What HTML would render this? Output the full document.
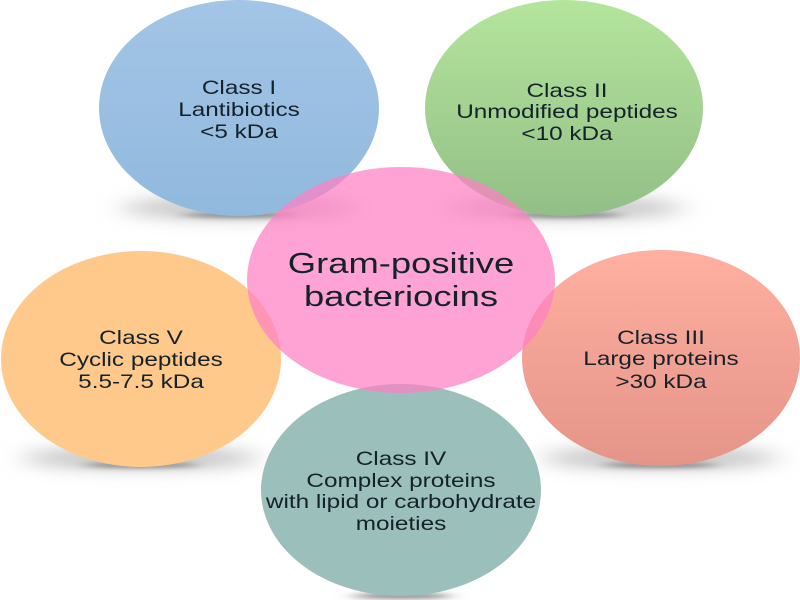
<!DOCTYPE html>
<html><head><meta charset="utf-8"><style>
html,body{margin:0;padding:0;background:#fff}
svg{display:block}
text{font-family:"Liberation Sans",sans-serif;fill:#14202a;text-anchor:middle}
.s{font-size:19px}
.b{font-size:29px}
</style></head><body>
<svg width="800" height="600" viewBox="0 0 800 600" xmlns="http://www.w3.org/2000/svg">
<defs>
<filter id="wide" x="-30%" y="-300%" width="160%" height="700%"><feGaussianBlur stdDeviation="14 8"/></filter>
<filter id="near" x="-30%" y="-300%" width="160%" height="700%"><feGaussianBlur stdDeviation="9 2.5"/></filter>
<filter id="soft" x="-5%" y="-5%" width="110%" height="110%"><feGaussianBlur stdDeviation=".35"/></filter>
<linearGradient id="blue" x1="0" y1="0" x2="0" y2="1"><stop offset="0" stop-color="#a3c5e6"/><stop offset="1" stop-color="#91b9de"/></linearGradient>
<linearGradient id="green" x1="0" y1="0" x2="0" y2="1"><stop offset="0" stop-color="#b4e59c"/><stop offset="1" stop-color="#92bf87"/></linearGradient>
<linearGradient id="red" x1="0" y1="0" x2="0" y2="1"><stop offset="0" stop-color="#ffb0a0"/><stop offset="1" stop-color="#e59488"/></linearGradient>
</defs>
<g filter="url(#wide)" fill="#c4c4c4">
<ellipse cx="240" cy="208" rx="118" ry="11"/>
<ellipse cx="565" cy="208" rx="118" ry="11"/>
<ellipse cx="141" cy="458" rx="118" ry="11"/>
<ellipse cx="660" cy="458" rx="118" ry="11"/>
</g>
<g filter="url(#near)" fill="#8c8c8c">
<ellipse cx="240" cy="215" rx="58" ry="3"/>
<ellipse cx="565" cy="215" rx="58" ry="3"/>
<ellipse cx="141" cy="465" rx="58" ry="3"/>
<ellipse cx="660" cy="465" rx="58" ry="3"/>
<ellipse cx="402" cy="596" rx="50" ry="3"/>
</g>
<ellipse cx="239" cy="108" rx="140" ry="108" fill="url(#blue)"/>
<ellipse cx="564" cy="108" rx="139" ry="108" fill="url(#green)"/>
<ellipse cx="141" cy="359" rx="140" ry="108" fill="#ffc98c"/>
<ellipse cx="661" cy="358" rx="139" ry="108" fill="url(#red)"/>
<ellipse cx="401" cy="490" rx="140" ry="106" fill="#9bbfba"/>
<ellipse cx="401" cy="280" rx="154" ry="113" fill="#ff7fc4" fill-opacity=".72"/>
<g filter="url(#soft)">
<text class="s" transform="translate(239 94) scale(1.28 1)">Class I</text>
<text class="s" transform="translate(239 116) scale(1.28 1)">Lantibiotics</text>
<text class="s" transform="translate(239 138) scale(1.28 1)">&lt;5 kDa</text>
<text class="s" transform="translate(567 97) scale(1.28 1)">Class II</text>
<text class="s" transform="translate(567 118) scale(1.28 1)">Unmodified peptides</text>
<text class="s" transform="translate(567 140) scale(1.28 1)">&lt;10 kDa</text>
<text class="s" transform="translate(141 344) scale(1.28 1)">Class V</text>
<text class="s" transform="translate(141 366) scale(1.28 1)">Cyclic peptides</text>
<text class="s" transform="translate(141 388) scale(1.28 1)">5.5-7.5 kDa</text>
<text class="s" transform="translate(661 344) scale(1.28 1)">Class III</text>
<text class="s" transform="translate(661 365) scale(1.28 1)">Large proteins</text>
<text class="s" transform="translate(661 388) scale(1.28 1)">&gt;30 kDa</text>
<text class="s" transform="translate(401 465) scale(1.28 1)">Class IV</text>
<text class="s" transform="translate(401 487) scale(1.28 1)">Complex proteins</text>
<text class="s" transform="translate(401 508) scale(1.28 1)">with lipid or carbohydrate</text>
<text class="s" transform="translate(401 530) scale(1.28 1)">moieties</text>
<text class="b" transform="translate(401 273) scale(1.255 1)">Gram-positive</text>
<text class="b" transform="translate(401 306) scale(1.255 1)">bacteriocins</text>
</g>
</svg>
</body></html>
